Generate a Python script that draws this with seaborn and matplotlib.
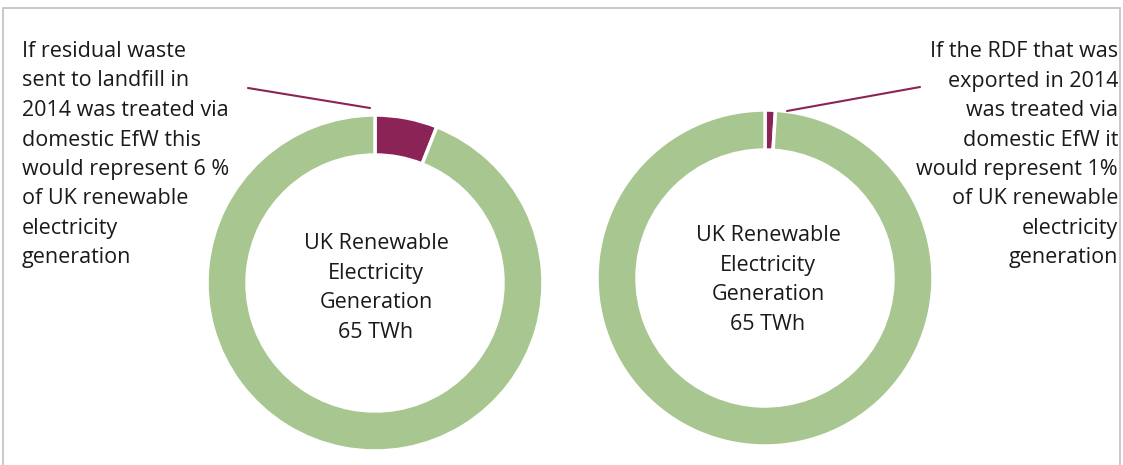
import matplotlib
matplotlib.use("Agg")
import matplotlib.pyplot as plt
from matplotlib.patches import Rectangle
import seaborn as sns

# shares of UK renewable electricity generation (%)
landfill_share = [6, 94]
rdf_share = [1, 99]
slice_colors = ["#8C2356", "#A8C68F"]

centre_label = ["UK Renewable", "Electricity", "Generation", "65 TWh"]
left_note = ["If residual waste", "sent to landfill in", "2014 was treated via",
             "domestic EfW this", "would represent 6 %", "of UK renewable",
             "electricity", "generation"]
right_note = ["If the RDF that was", "exported in 2014", "was treated via",
              "domestic EfW it", "would represent 1%", "of UK renewable",
              "electricity", "generation"]

sns.set_theme(style="white")
plt.rcParams["font.family"] = ["Open Sans", "DejaVu Sans"]

W, H = 1123, 465
fig = plt.figure(figsize=(W / 100, H / 100), dpi=100)
ax = fig.add_axes([0, 0, 1, 1])
FS = 15.5
TXT = "#1a1a1a"
PITCH = 29.5


def donut(values, cx, cy):
    ax.pie(values, colors=slice_colors, startangle=90, counterclock=False,
           center=(cx, H - cy), radius=168,
           wedgeprops=dict(width=40, edgecolor="white", linewidth=2.5))


def lines(texts, x, y0, ha):
    # y0 is the first baseline in pixel rows from the top
    for i, t in enumerate(texts):
        ax.text(x, H - (y0 + i * PITCH), t, ha=ha, va="baseline",
                fontsize=FS, color=TXT)


donut(landfill_share, 375, 283)
donut(rdf_share, 765, 278)

ax.set_xlim(0, W)
ax.set_ylim(0, H)
ax.set_aspect("auto")
ax.axis("off")

# chart frame
ax.add_patch(Rectangle((3, -5), 1117, H - 8 + 5, fill=False,
                       edgecolor="#C0C0C0", linewidth=1.2))

lines(centre_label, 376, 249, "center")
lines(centre_label, 768, 241, "center")
lines(left_note, 22, 57, "left")
lines(right_note, 1118, 57, "right")

# leader lines
ax.plot([248, 370], [H - 88, H - 108], color="#8C2356", lw=1.5)
ax.plot([920, 787], [H - 87, H - 111], color="#8C2356", lw=1.5)

fig.savefig("out.png", dpi=100)
